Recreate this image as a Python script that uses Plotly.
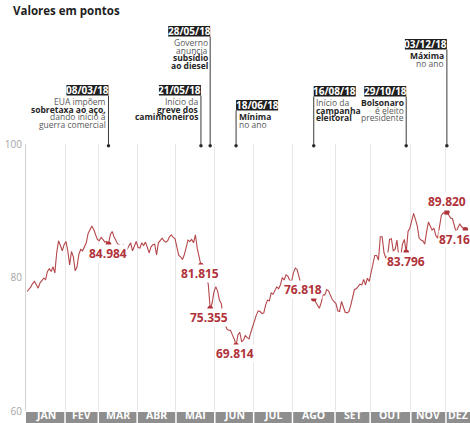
import numpy as np
import pandas as pd
import plotly.graph_objects as go

# Ibovespa daily close in 2018, thousands of points, one value per trading session
jan = [77.9, 78.2, 78.6, 79.1, 79.4, 78.9, 78.4, 79.2, 79.6, 79.9, 79.7,
       80.9, 81.3, 80.9, 81.6, 80.7, 83.7, 85.5, 84.8, 84.0, 84.9]
feb = [85.4, 84.0, 81.9, 83.9, 83.1, 81.0, 81.6, 83.5, 84.2, 84.0, 84.6,
       85.2, 86.6, 87.1, 87.7, 87.2, 86.3, 85.7]
mar = [85.5, 86.0, 85.7, 85.3, 85.4, 84.984, 86.4, 86.9, 86.1, 85.5, 85.0,
       84.9, 84.6, 84.9, 84.7, 84.2, 84.8, 85.2, 84.0, 84.6, 85.4]
apr = [84.5, 84.4, 85.2, 84.8, 85.3, 84.6, 83.7, 84.6, 84.9, 85.0, 83.4,
       85.2, 85.6, 85.9, 85.5, 85.3, 85.5, 86.1, 86.4, 86.0, 85.8]
may = [84.3, 83.3, 83.1, 82.7, 83.4, 84.4, 85.6, 85.4, 85.7, 85.2, 86.4,
       84.4, 83.1, 81.815, 81.3, 80.1, 80.3, 78.9, 75.355, 76.1, 77.8]
jun = [78.6, 78.0, 76.6, 76.1, 73.9, 73.1, 72.3, 72.1, 72.1, 71.4, 70.8,
       69.814, 71.4, 71.8, 70.4, 70.6, 71.3, 71.0, 70.8, 71.8, 72.8]
jul = [73.6, 74.4, 75.0, 74.9, 74.6, 74.7, 75.9, 76.6, 76.5, 77.7, 77.5,
       78.2, 78.6, 78.3, 78.9, 80.0, 79.6, 80.4, 80.2, 79.6, 79.4]
aug = [80.7, 81.4, 81.2, 80.1, 79.1, 78.4, 77.8, 76.9, 77.5, 77.1, 77.8,
       76.818, 76.4, 75.9, 75.4, 76.2, 77.4, 77.4, 78.2, 78.0, 77.2, 76.7, 76.4]
sep = [76.1, 75.0, 74.9, 76.4, 75.7, 74.8, 74.7, 74.9, 75.8, 77.3, 78.2,
       78.3, 78.6, 79.0, 78.9, 79.7, 78.9, 79.9, 79.4]
oct_ = [80.9, 82.0, 83.3, 83.3, 82.6, 86.1, 86.1, 83.7, 82.9, 83.4, 85.7,
        85.8, 84.0, 84.2, 85.6, 83.1, 83.1, 85.0, 85.7, 83.796, 86.9, 87.4]
nov = [88.4, 89.6, 88.7, 87.7, 85.9, 85.6, 85.5, 85.0, 86.8, 88.3, 87.7,
       87.1, 87.4, 86.3, 85.9, 87.9, 89.3, 89.7, 89.5]
dec = [89.82, 89.4, 88.9, 88.8, 87.9, 86.8, 87.5, 88.0, 87.6, 87.3, 87.16]

months = [jan, feb, mar, apr, may, jun, jul, aug, sep, oct_, nov, dec]
month_labels = ["JAN", "FEV", "MAR", "ABR", "MAI", "JUN",
                "JUL", "AGO", "SET", "OUT", "NOV", "DEZ"]

# B3 market holidays (no session) in 2018
holidays = ["2018-01-01", "2018-01-25", "2018-02-12", "2018-02-13", "2018-03-30",
            "2018-05-01", "2018-05-31", "2018-07-09", "2018-09-07", "2018-10-12",
            "2018-11-02", "2018-11-15", "2018-11-20", "2018-12-24", "2018-12-25",
            "2018-12-31"]

# Highlighted sessions and their value labels
labelled_dates = ["2018-03-08", "2018-05-21", "2018-05-28", "2018-06-18",
                  "2018-08-16", "2018-10-29", "2018-12-03", "2018-12-17"]
labelled_texts = ["84.984", "81.815", "75.355", "69.814",
                  "76.818", "83.796", "89.820", "87.16"]

# Timeline events
event_dates = ["2018-03-08", "2018-05-21", "2018-05-28", "2018-06-18",
               "2018-08-16", "2018-10-29", "2018-12-03"]
event_titles = ["08/03/18", "21/05/18", "28/05/18", "18/06/18",
                "16/08/18", "29/10/18", "03/12/18"]
event_texts = [
    ["EUA impõem", "<b>sobretaxa ao aço,</b>", "dando início à", "guerra comercial"],
    ["Início da", "<b>greve dos</b>", "<b>caminhoneiros</b>"],
    ["Governo", "anuncia", "<b>subsídio</b>", "<b>ao diesel</b>"],
    ["<b>Mínima</b>", "no ano"],
    ["Início da", "<b>campanha</b>", "<b>eleitoral</b>"],
    ["<b>Bolsonaro</b>", "é eleito", "presidente"],
    ["<b>Máxima</b>", "no ano"],
]

# ---- layout constants (pixels) ----
W, H = 470, 423
M_L, M_R, M_T, M_B = 26, 0, 144, 12
PLOT_TOP, PLOT_BOTTOM = M_T, H - M_B
RED = "#b0323a"
LINE = "#b5474b"
FONT = "Open Sans"


def ypaper(py):
    """Pixel row -> paper y coordinate."""
    return (PLOT_BOTTOM - py) / (PLOT_BOTTOM - PLOT_TOP)


# trading-session axis: x is the session number within the year
sessions = pd.bdate_range("2018-01-01", "2018-12-31", freq="C", holidays=holidays)
dates = []
for m, vals in enumerate(months, start=1):
    in_month = sessions[sessions.month == m]
    dates.extend(in_month[:len(vals)])
dates = pd.DatetimeIndex(dates)
values = [v for vals in months for v in vals]
x = np.arange(len(values))


def session_pos(d):
    return int(dates.get_loc(pd.Timestamp(d)))


month_start = [int(sessions.searchsorted(pd.Timestamp(2018, m, 1))) for m in range(1, 13)]
bounds = [s - 0.5 for s in month_start]
X_MIN, X_MAX = -0.6, 239.5
month_edges = bounds + [X_MAX]

fig = go.Figure()

fig.add_trace(go.Scatter(
    x=x, y=values, mode="lines",
    line=dict(color=LINE, width=1.1), hoverinfo="skip"))

lab_x = [session_pos(d) for d in labelled_dates]
lab_y = [values[i] for i in lab_x]
fig.add_trace(go.Scatter(
    x=lab_x, y=lab_y, mode="markers",
    marker=dict(size=5.5, color=RED), hoverinfo="skip"))

annotations = []
shapes = []

# value labels: pixel offsets of each label centre from its point
label_offsets = [(0, 9), (-1, 8.5), (-1, 8.5), (-1, 8.5),
                 (-11, -9.5), (0, 9.5), (0, -10), (-11, 10)]
for xi, yi, txt, (dx, dy) in zip(lab_x, lab_y, labelled_texts, label_offsets):
    annotations.append(dict(
        x=xi, y=yi, xref="x", yref="y", text=f"<b>{txt}</b>",
        showarrow=False, xanchor="center", yanchor="middle",
        xshift=dx, yshift=-dy, bgcolor="white", borderpad=0,
        font=dict(family=FONT, size=12, color=RED)))

# event markers above the plot
box_top = [85, 85, 26, 100, 86, 86, 39]
right_aligned = [True, True, True, False, False, True, True]
BOX_W, BOX_H = 42, 10.5
LINE_GAP = 7.6
ev_x = []
for d, title, lines, top, right in zip(event_dates, event_titles, event_texts,
                                       box_top, right_aligned):
    xi = session_pos(d)
    ev_x.append(xi)
    sgn = -1 if right else 1
    shapes.append(dict(
        type="rect", xref="x", yref="paper", xsizemode="pixel", xanchor=xi,
        x0=0 if not right else -BOX_W, x1=BOX_W if not right else 0,
        y0=ypaper(top + BOX_H), y1=ypaper(top),
        fillcolor="#1f1f1f", line=dict(width=0), layer="above"))
    annotations.append(dict(
        x=xi, y=ypaper(top + BOX_H / 2), xref="x", yref="paper",
        text=f"<b>{title}</b>", showarrow=False, xanchor="center", yanchor="middle",
        xshift=sgn * BOX_W / 2, font=dict(family=FONT, size=10, color="white")))
    shapes.append(dict(
        type="line", xref="x", yref="paper", x0=xi, x1=xi,
        y0=ypaper(top + BOX_H), y1=ypaper(PLOT_TOP + 1),
        line=dict(color="#3a3a3a", width=1), layer="above"))
    for k, ln in enumerate(lines):
        bold = ln.startswith("<b>")
        annotations.append(dict(
            x=xi, y=ypaper(top + BOX_H + 6 + k * LINE_GAP), xref="x", yref="paper",
            text=ln, showarrow=False, yanchor="middle",
            xanchor="right" if right else "left", xshift=sgn * 1.5,
            borderpad=0, align="right" if right else "left",
            font=dict(family=FONT, size=8.5,
                      color="#262626" if bold else "#5a5a5a")))

fig.add_trace(go.Scatter(
    x=ev_x, y=[99.75] * len(ev_x), mode="markers", cliponaxis=False,
    marker=dict(size=3.5, color="#2a2a2a"), hoverinfo="skip"))

# month strip under the plot
BAR_TOP, BAR_BOTTOM = 412, 424
shapes.append(dict(
    type="rect", xref="x", yref="paper", x0=X_MIN, x1=X_MAX,
    y0=ypaper(BAR_BOTTOM), y1=ypaper(BAR_TOP),
    fillcolor="#8e8e8e", line=dict(width=0), layer="above"))
for b in bounds[1:]:
    shapes.append(dict(
        type="line", xref="x", yref="paper", x0=b, x1=b,
        y0=ypaper(BAR_BOTTOM), y1=ypaper(BAR_TOP),
        line=dict(color="white", width=1.5), layer="above"))
for lab, a, b in zip(month_labels, month_edges[:-1], month_edges[1:]):
    annotations.append(dict(
        x=(a + b) / 2, y=ypaper(H), xref="x", yref="paper",
        text=f"<b>{lab}</b>", showarrow=False, xanchor="center", yanchor="bottom",
        borderpad=0, font=dict(family=FONT, size=10.5, color="white")))

fig.update_layout(
    width=W, height=H,
    margin=dict(l=M_L, r=M_R, t=M_T, b=M_B, pad=0),
    paper_bgcolor="white", plot_bgcolor="white",
    showlegend=False,
    title=dict(text="<b>Valores em pontos</b>", x=13 / W, xanchor="left",
               y=1 - 11 / H, yanchor="middle", xref="container", yref="container",
               font=dict(family=FONT, size=11.5, color="#1e1e1e")),
    xaxis=dict(range=[X_MIN, X_MAX], tickvals=bounds, showticklabels=False,
               ticks="", showgrid=True, gridcolor="#e7e7e7", gridwidth=1,
               zeroline=False, showline=False, fixedrange=True),
    yaxis=dict(range=[60, 100], tickvals=[60, 80, 100], ticks="",
               showgrid=False, zeroline=False, showline=True,
               linecolor="#d2d2d2", linewidth=1, fixedrange=True,
               tickfont=dict(family=FONT, size=10, color="#a5a5a5"),
               ticklabelstandoff=1),
    annotations=annotations,
    shapes=shapes,
)

fig.write_html("out.html")
